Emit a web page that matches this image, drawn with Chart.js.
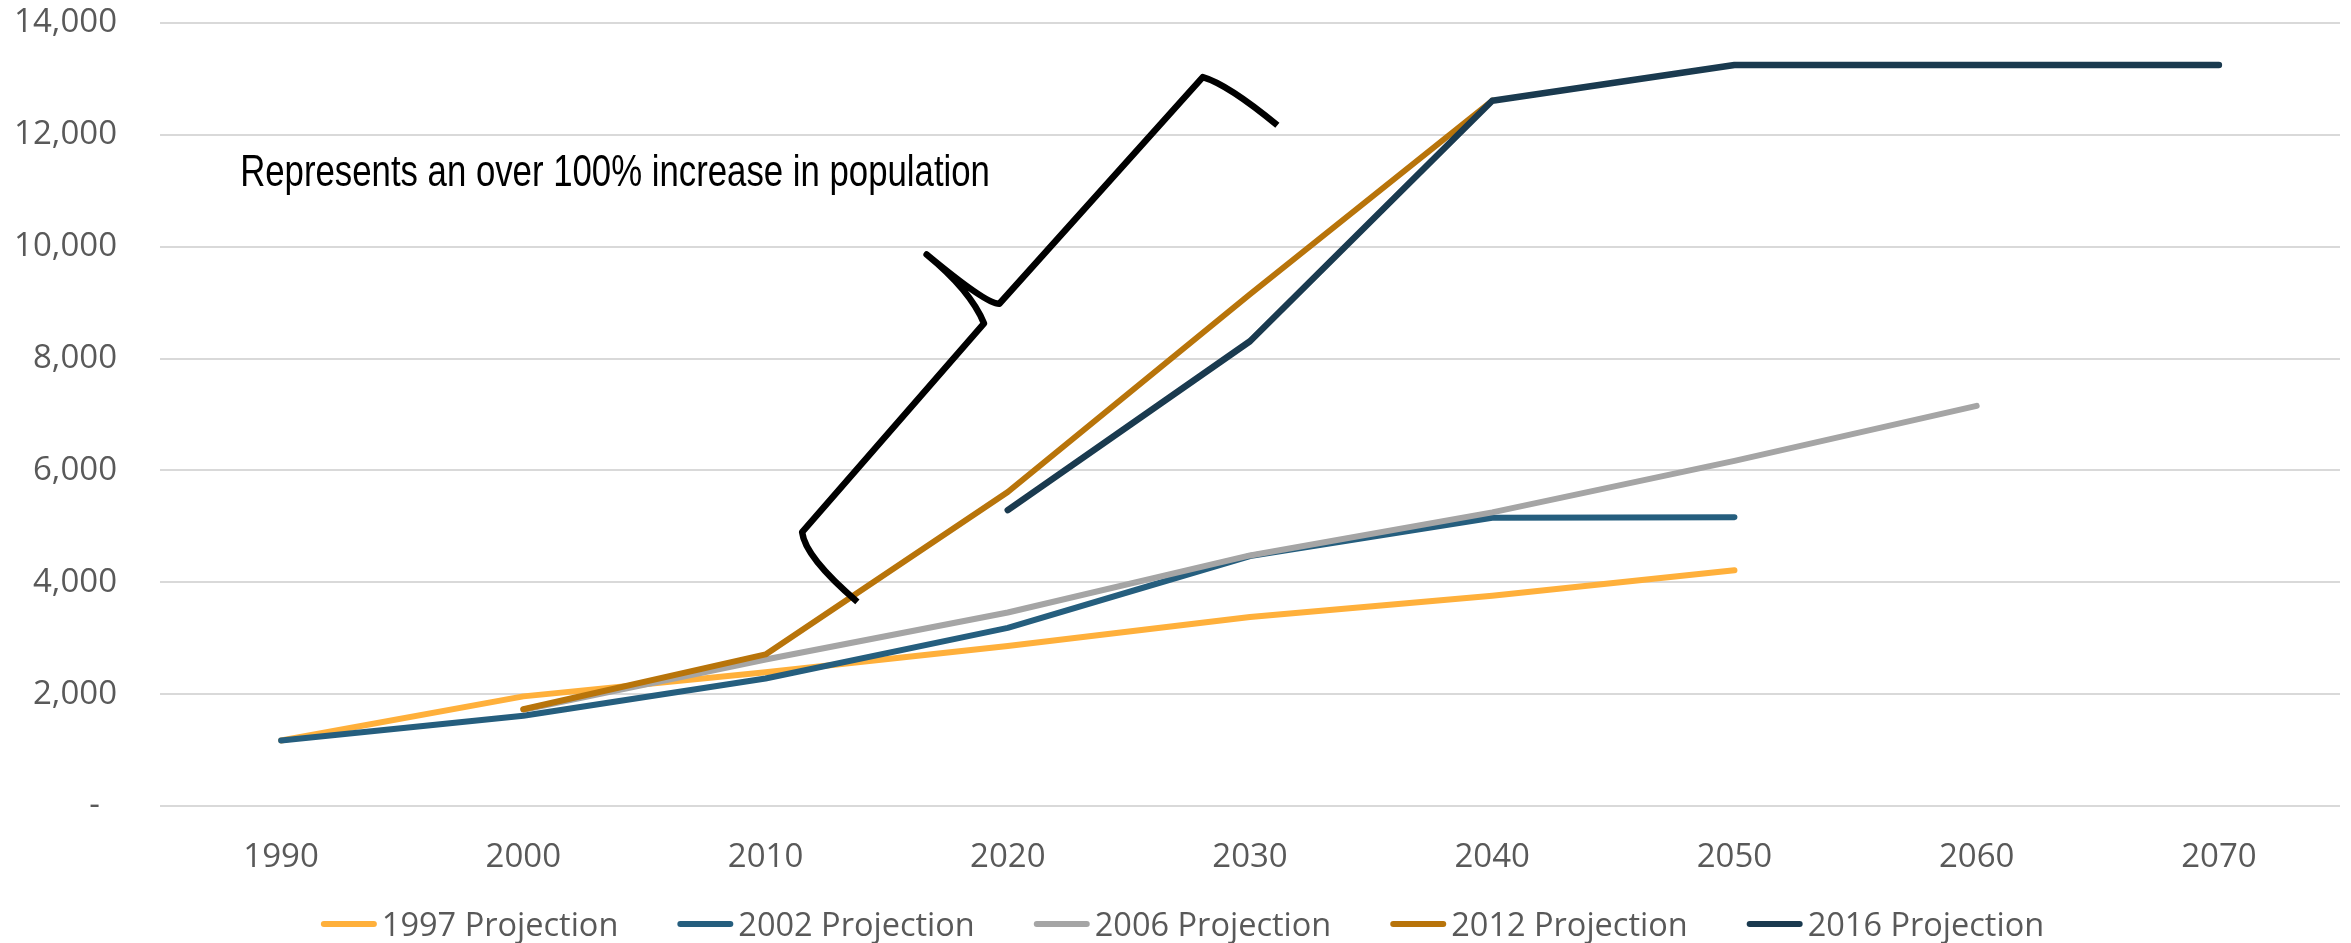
<!DOCTYPE html>
<html>
<head>
<meta charset="utf-8">
<title>Population projections</title>
<script src="https://cdn.jsdelivr.net/npm/chart.js@4.4.1/dist/chart.umd.min.js"></script>
<style>
  html, body { margin: 0; padding: 0; background: #ffffff; }
  #wrap { width: 2351px; height: 943px; }
</style>
</head>
<body>
<div id="wrap"><canvas id="chart" width="2351" height="943"></canvas></div>
<script>
// Census years on the horizontal axis
const years = ['1990', '2000', '2010', '2020', '2030', '2040', '2050', '2060', '2070'];

// Projected population, one array per projection vintage (null = not projected)
const proj1997 = [1170, 1960, 2390, 2860, 3380, 3760, 4215, null, null];
const proj2002 = [1170, 1615, 2280, 3185, 4470, 5155, 5165, null, null];
const proj2006 = [null, 1720, 2620, 3460, 4480, 5250, 6170, 7155, null];
const proj2012 = [null, 1730, 2710, 5615, 9150, 12610, null, null, null];
const proj2016 = [null, null, null, 5290, 8310, 12610, 13250, 13250, 13250];

const seriesLabels = ['1997 Projection', '2002 Projection', '2006 Projection', '2012 Projection', '2016 Projection'];
const seriesColors = ['#FFB03B', '#255E7E', '#A5A5A5', '#B8740A', '#1A3A4F'];

// Y axis ticks
const yMax = 14000;
const yStep = 2000;

// Call-out text and the brace beside it, in axis units: [category index, population]
const calloutText = 'Represents an over 100% increase in population';
const calloutAnchor = [-0.169, 11080];
const braceStart = [2.379, 3650];
const braceLowCtrl = [2.163, 4450];
const braceLowCorner = [2.151, 4896];
const braceLowArm = [2.902, 8629];
const braceTipCtrlA = [2.846, 9220];
const braceTip = [2.665, 9861];
const braceTipCtrlB = [2.914, 8967];
const braceHighArm = [2.965, 8980];
const braceHighCorner = [3.805, 13033];
const braceHighCtrl = [3.907, 12906];
const braceEnd = [4.113, 12172];

const tickFont = { family: '"Open Sans", "DejaVu Sans", sans-serif', size: 33 };
const tickColor = '#595959';

function toPx(chart, p) {
  return [chart.scales.x.getPixelForValue(p[0]), chart.scales.y.getPixelForValue(p[1])];
}

// Brace and its caption
const calloutPlugin = {
  id: 'callout',
  afterDatasetsDraw(chart) {
    const ctx = chart.ctx;
    ctx.save();
    ctx.fillStyle = '#000000';
    ctx.font = '44px "Liberation Sans", Arial, sans-serif';
    ctx.textAlign = 'left';
    ctx.textBaseline = 'alphabetic';
    const t = toPx(chart, calloutAnchor);
    // narrow face: Liberation Sans squeezed horizontally
    ctx.save();
    ctx.translate(t[0], t[1]);
    ctx.scale(0.79, 1);
    ctx.fillText(calloutText, 0, 0);
    ctx.restore();

    const P = (p) => toPx(chart, p);
    const a = P(braceStart), c1 = P(braceLowCtrl), b = P(braceLowCorner), c = P(braceLowArm);
    const c2 = P(braceTipCtrlA), d = P(braceTip), c3 = P(braceTipCtrlB), e = P(braceHighArm);
    const f = P(braceHighCorner), c4 = P(braceHighCtrl), g = P(braceEnd);
    ctx.beginPath();
    ctx.moveTo(a[0], a[1]);
    ctx.quadraticCurveTo(c1[0], c1[1], b[0], b[1]);
    ctx.lineTo(c[0], c[1]);
    ctx.quadraticCurveTo(c2[0], c2[1], d[0], d[1]);
    ctx.quadraticCurveTo(c3[0], c3[1], e[0], e[1]);
    ctx.lineTo(f[0], f[1]);
    ctx.quadraticCurveTo(c4[0], c4[1], g[0], g[1]);
    ctx.lineWidth = 6.5;
    ctx.strokeStyle = '#000000';
    ctx.lineJoin = 'round';
    ctx.lineCap = 'butt';
    ctx.stroke();
    ctx.restore();
  }
};

// Legend row of short line swatches under the axis
const lineLegendPlugin = {
  id: 'lineLegend',
  afterDraw(chart) {
    const ctx = chart.ctx;
    const sets = chart.data.datasets;
    ctx.save();
    ctx.font = '32.5px "Open Sans", "DejaVu Sans", sans-serif';
    const swatch = 56, gapText = 5, gapItem = 59;
    const widths = sets.map(d => ctx.measureText(d.label).width);
    const total = widths.reduce((s, w) => s + swatch + gapText + w, 0) + gapItem * (sets.length - 1);
    let x = chart.width / 2 - total / 2 + 7;
    const midY = chart.height - 19;
    sets.forEach((d, i) => {
      ctx.beginPath();
      ctx.moveTo(x + 3, midY);
      ctx.lineTo(x + swatch - 3, midY);
      ctx.lineWidth = 6;
      ctx.lineCap = 'round';
      ctx.strokeStyle = d.borderColor;
      ctx.stroke();
      ctx.fillStyle = tickColor;
      ctx.textAlign = 'left';
      ctx.textBaseline = 'alphabetic';
      ctx.fillText(d.label, x + swatch + gapText, midY + 12);
      x += swatch + gapText + widths[i] + gapItem;
    });
    ctx.restore();
  }
};

const seriesData = [proj1997, proj2002, proj2006, proj2012, proj2016];

function build() {
  const datasets = seriesData.map((vals, i) => ({
    label: seriesLabels[i],
    data: vals,
    borderColor: seriesColors[i],
    backgroundColor: seriesColors[i],
    borderWidth: i === 4 ? 6.5 : 6,
    borderCapStyle: 'round',
    borderJoinStyle: 'round',
    pointRadius: 0,
    pointHoverRadius: 0,
    tension: 0,
    spanGaps: false,
    fill: false,
    order: seriesData.length - i
  }));

  new Chart(document.getElementById('chart'), {
    type: 'line',
    data: { labels: years, datasets },
    plugins: [calloutPlugin, lineLegendPlugin],
    options: {
      responsive: false,
      animation: false,
      devicePixelRatio: 1,
      layout: { padding: { top: 23, right: 11, bottom: 64, left: 0 } },
      plugins: {
        legend: { display: false },
        tooltip: { enabled: false },
        title: { display: false }
      },
      scales: {
        x: {
          type: 'category',
          offset: true,
          grid: { display: false, drawTicks: false },
          border: { display: false },
          ticks: {
            font: tickFont,
            color: tickColor,
            padding: 32,
            maxRotation: 0,
            autoSkip: false
          },
          afterFit(scale) { scale.height = 73; }
        },
        y: {
          min: 0,
          max: yMax,
          grid: { color: '#D9D9D9', lineWidth: 2, drawTicks: false },
          border: { display: false },
          ticks: {
            stepSize: yStep,
            font: tickFont,
            color: tickColor,
            padding: 43,
            callback: (v) => v === 0 ? '-  ' : v.toLocaleString('en-US')
          },
          afterFit(scale) {
            scale.width = 160;
            // label overhang is already covered by the layout padding
            scale.paddingTop = 0;
            scale.paddingBottom = 0;
          }
        }
      }
    }
  });
}

const fontsReady = document.fonts && document.fonts.load
  ? Promise.all([
      document.fonts.load('33px "Open Sans"'),
      document.fonts.load('44px "Liberation Sans"')
    ]).catch(() => null)
  : Promise.resolve();
fontsReady.then(build);
</script>
</body>
</html>
